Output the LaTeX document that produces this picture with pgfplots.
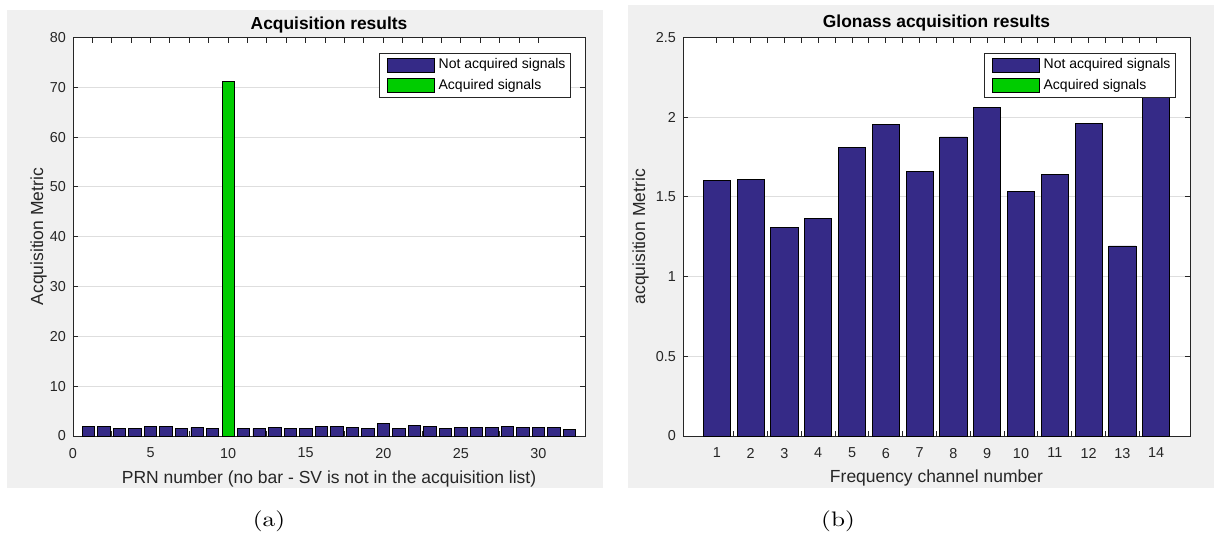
\documentclass[border=0pt]{standalone}
\usepackage{fontspec}
\setsansfont{Liberation Sans}
\usepackage{pgfplots}
\pgfplotsset{compat=1.18}
\definecolor{navy}{RGB}{53,42,135}
\definecolor{mgreen}{RGB}{0,204,0}
\definecolor{panel}{RGB}{240,240,240}
\definecolor{axc}{RGB}{38,38,38}
\definecolor{gridc}{RGB}{222,222,222}
\pgfplotsset{
  mylegend/.style={legend image code/.code={\path[draw=none,fill=none] (0pt,-3.5pt) -- (0pt,3.5pt);\draw[##1, line width=0.4pt] (2.5pt,-3.5pt) rectangle (26pt,3.5pt);}},
  every axis title shift=0pt,
  mstyle/.style={
    scale only axis,
    font=\sffamily,
    /pgf/number format/assume math mode=true,
    axis line style={draw=axc, line width=0.5pt},
    tick style={draw=axc, line width=0.5pt},
    major tick length=2.5pt, minor tick length=2.5pt,
    tick align=inside,
    ticklabel style={font=\sffamily\fontsize{7.2}{8}\selectfont, text=axc},
    xticklabel style={yshift=-2.5pt},
    ymajorgrids, grid style={draw=gridc, line width=0.5pt},
    label style={font=\sffamily\fontsize{8.75}{10}\selectfont, text=axc},
    title style={font=\sffamily\bfseries\fontsize{8.7}{10}\selectfont, text=black, anchor=base},
    axis background/.style={fill=white},
    legend cell align=left,
    legend style={at={(1,1)}, anchor=north east, xshift=-7pt, yshift=-7.5pt,
      draw=axc, line width=0.5pt, fill=white,
      font=\sffamily\fontsize{7}{8}\selectfont,
      inner xsep=1.5pt, inner ysep=1.7pt, row sep=1.8pt, column sep=1pt,
      nodes={inner sep=1pt, text=black}},
    ymin=0,
  }
}
\begin{document}
\begin{tikzpicture}
\path[use as bounding box] (0,0) rectangle (613.5pt,268.5pt);
\fill[panel] (3.5pt,24.5pt) rectangle (301.5pt,263.5pt);
\fill[panel] (314pt,24.5pt) rectangle (607pt,266pt);
\begin{axis}[mstyle, at={(36.5pt,50.5pt)}, anchor=south west,
  width=256pt, height=199.25pt,
  xmin=0, xmax=33, ymax=80,
  xtick={0,5,...,30}, minor x tick num=3,
  ytick={0,10,...,80},
  title={Acquisition results},
  title style={at={([yshift=4pt]axis description cs:0.5,1)}},
  xlabel={PRN number (no bar - SV is not in the acquisition list)},
  xlabel style={at={([yshift=-23.5pt]axis description cs:0.5,0)}, anchor=base},
  ylabel={Acquisition Metric},
  ylabel style={at={([xshift=-15pt]axis description cs:0,0.5)}, anchor=base},
]
\addplot[ybar, bar width=0.8, bar shift=0pt, fill=navy, draw=black, line width=0.4pt, mylegend] coordinates {
(1,1.9)(2,1.9)(3,1.5)(4,1.5)(5,1.9)(6,1.9)(7,1.5)(8,1.7)(9,1.5)
(11,1.5)(12,1.5)(13,1.7)(14,1.5)(15,1.5)(16,1.9)(17,1.9)(18,1.7)(19,1.5)
(20,2.5)(21,1.5)(22,2.2)(23,1.9)(24,1.5)(25,1.7)(26,1.7)(27,1.7)(28,1.9)
(29,1.7)(30,1.7)(31,1.7)(32,1.3)};
\addlegendentry{Not acquired signals}
\addplot[ybar, bar width=0.8, bar shift=0pt, fill=mgreen, draw=black, line width=0.4pt, mylegend] coordinates {(10,71.2)};
\addlegendentry{Acquired signals}
\end{axis}
\begin{axis}[mstyle, at={(341.5pt,50.5pt)}, anchor=south west,
  width=253.5pt, height=199.25pt,
  xmin=0, xmax=15, ymax=2.5,
  xtick={1,...,14}, minor x tick num=1,
  ytick={0,0.5,1,1.5,2,2.5},
  title={Glonass acquisition results},
  title style={at={([yshift=5pt]axis description cs:0.5,1)}},
  xlabel={Frequency channel number},
  xlabel style={at={([yshift=-23pt]axis description cs:0.5,0)}, anchor=base},
  ylabel={acquisition Metric},
  ylabel style={at={([xshift=-19pt]axis description cs:0,0.5)}, anchor=base},
]
\addplot[ybar, bar width=0.8, bar shift=0pt, fill=navy, draw=black, line width=0.4pt, mylegend] coordinates {
(1,1.606)(2,1.612)(3,1.308)(4,1.366)(5,1.809)(6,1.953)(7,1.658)(8,1.876)
(9,2.063)(10,1.535)(11,1.643)(12,1.961)(13,1.192)(14,2.2)};
\addlegendentry{Not acquired signals}
\addlegendimage{fill=mgreen, draw=black, line width=0.4pt, mylegend}
\addlegendentry{Acquired signals}
\end{axis}
\node[font=\fontsize{10.5}{12}\selectfont, xscale=1.2] at (134.5pt,7.65pt) {(a)};
\node[font=\fontsize{10.5}{12}\selectfont, xscale=1.2] at (419pt,7.65pt) {(b)};
\end{tikzpicture}
\end{document}
